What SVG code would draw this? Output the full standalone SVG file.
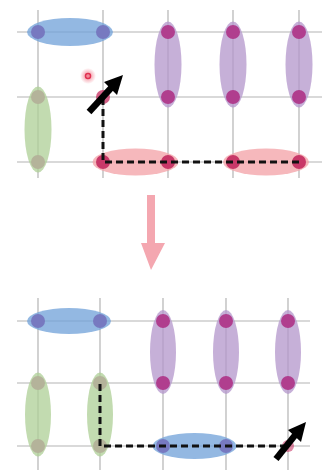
<svg xmlns="http://www.w3.org/2000/svg" width="322" height="473" viewBox="0 0 322 473">
  <defs>
    <style>
      .grid { stroke: #b4b4b4; stroke-width: 1.2; fill: none; }
      .pair-blue { fill: #6fa0d8; fill-opacity: 0.75; }
      .pair-purple { fill: #b395cb; fill-opacity: 0.75; }
      .pair-green { fill: #adcf95; fill-opacity: 0.75; }
      .pair-red { fill: #f3a0a5; fill-opacity: 0.75; }
      .dot-blue { fill: #7779c0; }
      .dot-purple { fill: #b03e8e; }
      .dot-green { fill: #b4b39a; }
      .dot-red { fill: #c83868; }
      .path { stroke: #111; stroke-width: 3; stroke-dasharray: 7 4; fill: none; }
      .move { stroke: #000; stroke-width: 6.5; fill: none; }
    </style>
    <radialGradient id="glow">
      <stop offset="0" stop-color="#ee5f72" stop-opacity="0.8"/>
      <stop offset="1" stop-color="#ee5f72" stop-opacity="0"/>
    </radialGradient>
  </defs>

  <!-- upper lattice -->
  <g id="grid-top" class="grid">
    <path d="M17 32H322M17 97H322M17 162H322"/>
    <path d="M38 10V178M103 10V178M168 10V178M233 10V178M299 10V178"/>
  </g>

  <g id="top-blue-pair">
    <ellipse class="pair-blue" cx="70" cy="32" rx="43" ry="14"/>
    <circle class="dot-blue" cx="38" cy="32" r="7"/>
    <circle class="dot-blue" cx="103" cy="32" r="7"/>
  </g>
  <g id="top-purple-1">
    <ellipse class="pair-purple" cx="168" cy="64.5" rx="13.5" ry="43"/>
    <circle class="dot-purple" cx="168" cy="32" r="7"/>
    <circle class="dot-purple" cx="168" cy="97" r="7"/>
  </g>
  <g id="top-purple-2">
    <ellipse class="pair-purple" cx="233" cy="64.5" rx="13.5" ry="43"/>
    <circle class="dot-purple" cx="233" cy="32" r="7"/>
    <circle class="dot-purple" cx="233" cy="97" r="7"/>
  </g>
  <g id="top-purple-3">
    <ellipse class="pair-purple" cx="299" cy="64.5" rx="13.5" ry="43"/>
    <circle class="dot-purple" cx="299" cy="32" r="7"/>
    <circle class="dot-purple" cx="299" cy="97" r="7"/>
  </g>
  <g id="top-green-pair">
    <ellipse class="pair-green" cx="38" cy="129.5" rx="13.5" ry="43"/>
    <circle class="dot-green" cx="38" cy="97" r="7"/>
    <circle class="dot-green" cx="38" cy="162" r="7"/>
  </g>
  <g id="top-red-pair-1">
    <ellipse class="pair-red" cx="135.5" cy="162" rx="43" ry="13.5"/>
    <circle class="dot-red" cx="103" cy="162" r="7"/>
    <circle class="dot-red" cx="168" cy="162" r="7"/>
  </g>
  <g id="top-red-pair-2">
    <ellipse class="pair-red" cx="266" cy="162" rx="43" ry="13.5"/>
    <circle class="dot-red" cx="233" cy="162" r="7"/>
    <circle class="dot-red" cx="299" cy="162" r="7"/>
  </g>
  <g id="top-mover">
    <circle class="dot-red" cx="103" cy="97" r="7" opacity="0.8"/>
  </g>
  <g id="vacancy">
    <circle cx="88" cy="76" r="8" fill="url(#glow)"/>
    <circle cx="88" cy="76" r="2.5" fill="none" stroke="#e03050" stroke-width="1.5"/>
  </g>

  <!-- lower lattice -->
  <g id="grid-bottom" class="grid">
    <path d="M17 321H310M17 383H310M17 446H310"/>
    <path d="M38 298V470M100 298V470M163 298V470M226 298V470M288 298V470"/>
  </g>

  <g id="bottom-blue-pair-1">
    <ellipse class="pair-blue" cx="69" cy="321" rx="42" ry="13"/>
    <circle class="dot-blue" cx="38" cy="321" r="7"/>
    <circle class="dot-blue" cx="100" cy="321" r="7"/>
  </g>
  <g id="bottom-purple-1">
    <ellipse class="pair-purple" cx="163" cy="352" rx="13" ry="42"/>
    <circle class="dot-purple" cx="163" cy="321" r="7"/>
    <circle class="dot-purple" cx="163" cy="383" r="7"/>
  </g>
  <g id="bottom-purple-2">
    <ellipse class="pair-purple" cx="226" cy="352" rx="13" ry="42"/>
    <circle class="dot-purple" cx="226" cy="321" r="7"/>
    <circle class="dot-purple" cx="226" cy="383" r="7"/>
  </g>
  <g id="bottom-purple-3">
    <ellipse class="pair-purple" cx="288" cy="352" rx="13" ry="42"/>
    <circle class="dot-purple" cx="288" cy="321" r="7"/>
    <circle class="dot-purple" cx="288" cy="383" r="7"/>
  </g>
  <g id="bottom-green-1">
    <ellipse class="pair-green" cx="38" cy="414.5" rx="13" ry="42"/>
    <circle class="dot-green" cx="38" cy="383" r="7"/>
    <circle class="dot-green" cx="38" cy="446" r="7"/>
  </g>
  <g id="bottom-green-2">
    <ellipse class="pair-green" cx="100" cy="414.5" rx="13" ry="42"/>
    <circle class="dot-green" cx="100" cy="383" r="7"/>
    <circle class="dot-green" cx="100" cy="446" r="7"/>
  </g>
  <g id="bottom-blue-pair-2">
    <ellipse class="pair-blue" cx="194.5" cy="446" rx="42" ry="13"/>
    <circle class="dot-blue" cx="163" cy="446" r="7"/>
    <circle class="dot-blue" cx="226" cy="446" r="7"/>
  </g>
  <g id="bottom-mover">
    <circle class="dot-red" cx="288" cy="446" r="6" opacity="0.6"/>
  </g>

  <!-- string paths and hop arrows -->
  <g id="connectors">
    <path class="path" d="M103 98V162H299"/>
    <path class="path" d="M100 384V446H288"/>
    <line class="move" x1="89" y1="112" x2="112" y2="87"/>
    <polygon points="123,75 104,82 117,95" fill="#000"/>
    <line class="move" x1="276" y1="459" x2="296" y2="434"/>
    <polygon points="306,422 288,430 301,442" fill="#000"/>
    <path d="M147 195H155V243H165L151 270L141 243H147Z" fill="#f4a7b0"/>
  </g>
</svg>
